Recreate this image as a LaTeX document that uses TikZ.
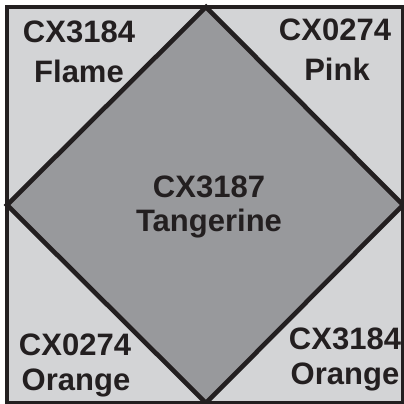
\documentclass[tikz,border=0pt]{standalone}
\usepackage{fontspec}
\setmainfont{Liberation Sans}
\definecolor{lightfill}{RGB}{211,212,214}
\definecolor{darkfill}{RGB}{152,153,156}
\definecolor{ink}{RGB}{35,31,32}
\begin{document}
\begin{tikzpicture}[x=1pt,y=-1pt,
  lbl/.style={anchor=base,inner sep=0pt,font=\fontsize{31}{31}\selectfont\bfseries,text=ink},
  edge/.style={draw=ink,line width=4.6pt,line join=miter}]
\useasboundingbox (0,0) rectangle (404,404);
\clip (0,0) rectangle (404,404);
\fill[lightfill] (7,7) rectangle (403,403);
\coordinate (T) at (206,7);
\coordinate (R) at (403,205);
\coordinate (B) at (206,403);
\coordinate (L) at (7,205);
\fill[darkfill] (T) -- (R) -- (B) -- (L) -- cycle;
\draw[edge] (T) -- (R) -- (B) -- (L) -- cycle;
\draw[edge] (7,7) rectangle (403,403);
\node[lbl] (tl1) at (79,43) {CX3184};
\node[lbl] (tl2) at (79,82) {Flame};
\node[lbl] (tr1) at (335,41) {CX0274};
\node[lbl] (tr2) at (337,80) {Pink};
\node[lbl] (c1) at (209,197) {CX3187};
\node[lbl] (c2) at (209,231) {Tangerine};
\node[lbl] (bl1) at (75,355) {CX0274};
\node[lbl] (bl2) at (76,390) {Orange};
\node[lbl] (br1) at (345,349) {CX3184};
\node[lbl] (br2) at (345,384) {Orange};
\end{tikzpicture}
\end{document}
